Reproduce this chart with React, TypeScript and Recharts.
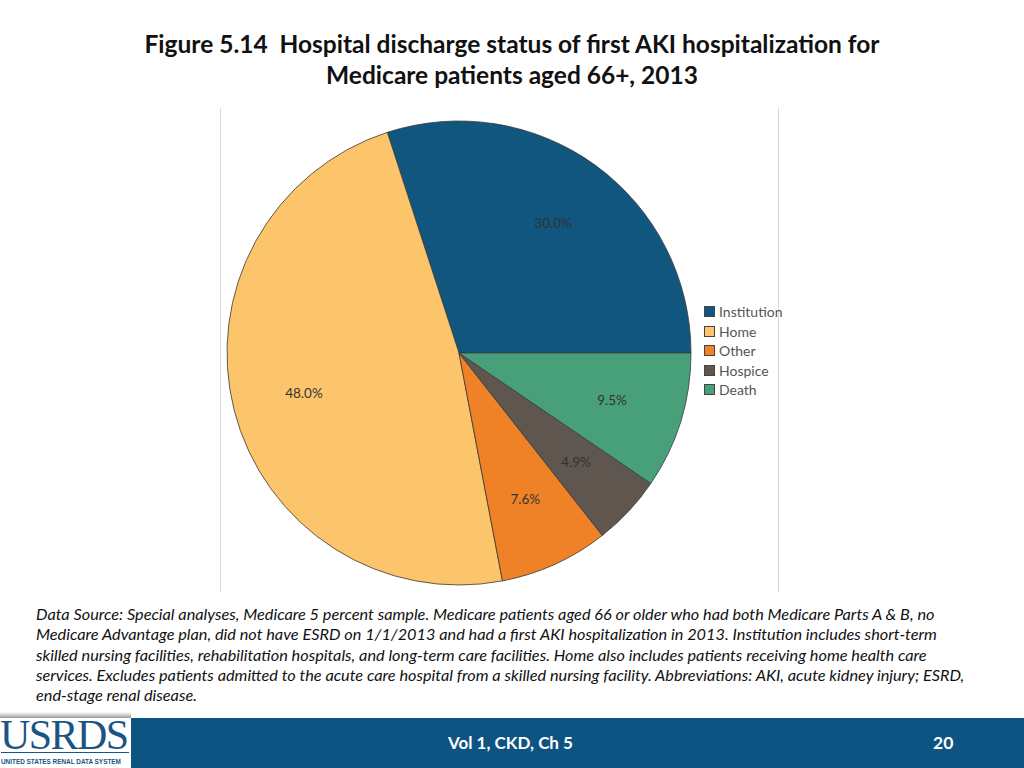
import { PieChart, Pie, Cell, Legend } from "recharts";

// slices, counter-clockwise from 3 o'clock
const categories = ["Institution", "Home", "Other", "Hospice", "Death"];
const shares = [30.0, 48.0, 7.6, 4.9, 9.5];
const colors = ["#10567f", "#fdc56b", "#ef8226", "#5f5650", "#48a07a"];

const footnoteLines = [
  "Data Source: Special analyses, Medicare 5 percent sample. Medicare patients aged 66 or older who had both Medicare Parts A & B, no",
  "Medicare Advantage plan, did not have ESRD on 1/1/2013 and had a first AKI hospitalization in 2013. Institution includes short-term",
  "skilled nursing facilities, rehabilitation hospitals, and long-term care facilities. Home also includes patients receiving home health care",
  "services. Excludes patients admitted to the acute care hospital from a skilled nursing facility. Abbreviations: AKI, acute kidney injury; ESRD,",
  "end-stage renal disease.",
];

const data = categories.map((name, i) => ({ name, value: shares[i] }));

const RADIAN = Math.PI / 180;

const renderLabel = (props: any) => {
  const { cx, cy, midAngle, outerRadius, value } = props;
  const r = outerRadius * 0.69;
  const x = cx + r * Math.cos(-midAngle * RADIAN);
  const y = cy + r * Math.sin(-midAngle * RADIAN);
  return (
    <text
      x={x}
      y={y}
      fill="#333"
      textAnchor="middle"
      dominantBaseline="central"
      fontSize={13.5}
      fontFamily="Lato, sans-serif"
    >
      {value.toFixed(1)}%
    </text>
  );
};

const LegendBox = () => (
  <div style={{ fontFamily: "Lato, sans-serif", fontSize: 14, color: "#555" }}>
    {categories.map((name, i) => (
      <div key={name} style={{ display: "flex", alignItems: "center", height: 19.5 }}>
        <span
          style={{
            width: 9,
            height: 9,
            background: colors[i],
            border: "1px solid #444",
            marginRight: 4,
          }}
        />
        {name}
      </div>
    ))}
  </div>
);

export default function App() {
  return (
    <div
      style={{
        position: "absolute",
        left: 0,
        top: 0,
        width: 1024,
        height: 768,
        background: "#fff",
        overflow: "hidden",
        fontFamily: "Lato, sans-serif",
      }}
    >
      <div
        style={{
          position: "absolute",
          top: 28,
          left: 0,
          width: 1024,
          textAlign: "center",
          fontWeight: 700,
          fontSize: 24.5,
          lineHeight: "31px",
          color: "#111",
        }}
      >
        <div>Figure 5.14&nbsp;&nbsp;Hospital discharge status of first AKI hospitalization for</div>
        <div>Medicare patients aged 66+, 2013</div>
      </div>

      <div
        style={{
          position: "absolute",
          left: 220,
          top: 108,
          width: 557,
          height: 484,
          borderLeft: "1px solid #d9d9d9",
          borderRight: "1px solid #d9d9d9",
        }}
      >
        <PieChart width={557} height={484} margin={{ top: 0, right: 0, bottom: 0, left: 0 }}>
          <Pie
            data={data}
            dataKey="value"
            nameKey="name"
            cx={238}
            cy={245}
            outerRadius={232}
            startAngle={0}
            endAngle={360}
            stroke="#3a3a3a"
            strokeWidth={0.8}
            label={renderLabel}
            labelLine={false}
            isAnimationActive={false}
          >
            {data.map((d, i) => (
              <Cell key={d.name} fill={colors[i]} />
            ))}
          </Pie>
          <Legend
            content={<LegendBox />}
            wrapperStyle={{ position: "absolute", left: 483, top: 194, width: 90 }}
          />
        </PieChart>
      </div>

      <div
        style={{
          position: "absolute",
          left: 36,
          top: 604,
          fontStyle: "italic",
          fontSize: 16.3,
          lineHeight: "20.3px",
          color: "#111",
          whiteSpace: "nowrap",
        }}
      >
        {footnoteLines.map((l) => (
          <div key={l}>{l}</div>
        ))}
      </div>

      {/* footer */}
      <div
        style={{
          position: "absolute",
          left: 0,
          top: 718,
          width: 1024,
          height: 50,
          background: "#0e5482",
        }}
      />
      <div
        style={{
          position: "absolute",
          left: 0,
          top: 712,
          width: 131,
          height: 56,
          background: "linear-gradient(#fff 0px, #9a9a9a 6px, #fff 6px)",
        }}
      />
      <div
        style={{
          position: "absolute",
          left: 0,
          top: 714,
          width: 131,
          fontFamily: "'Liberation Serif', serif",
          fontSize: 42,
          lineHeight: "42px",
          letterSpacing: -1.6,
          color: "#1b5583",
          whiteSpace: "nowrap",
        }}
      >
        USRDS
      </div>
      <div
        style={{
          position: "absolute",
          left: 1,
          top: 752,
          width: 128,
          height: 1,
          background: "#1b5583",
        }}
      />
      <div
        style={{
          position: "absolute",
          left: 1,
          top: 757,
          fontFamily: "'Liberation Sans', sans-serif",
          fontWeight: 700,
          fontSize: 6.4,
          lineHeight: "9px",
          color: "#1b5583",
          whiteSpace: "nowrap",
        }}
      >
        UNITED STATES RENAL DATA SYSTEM
      </div>
      <div
        style={{
          position: "absolute",
          left: 448,
          top: 732,
          color: "#fff",
          fontWeight: 700,
          fontSize: 17,
        }}
      >
        Vol 1, CKD, Ch 5
      </div>
      <div
        style={{
          position: "absolute",
          left: 933,
          top: 732,
          color: "#fff",
          fontWeight: 700,
          fontSize: 17.5,
        }}
      >
        20
      </div>
    </div>
  );
}
